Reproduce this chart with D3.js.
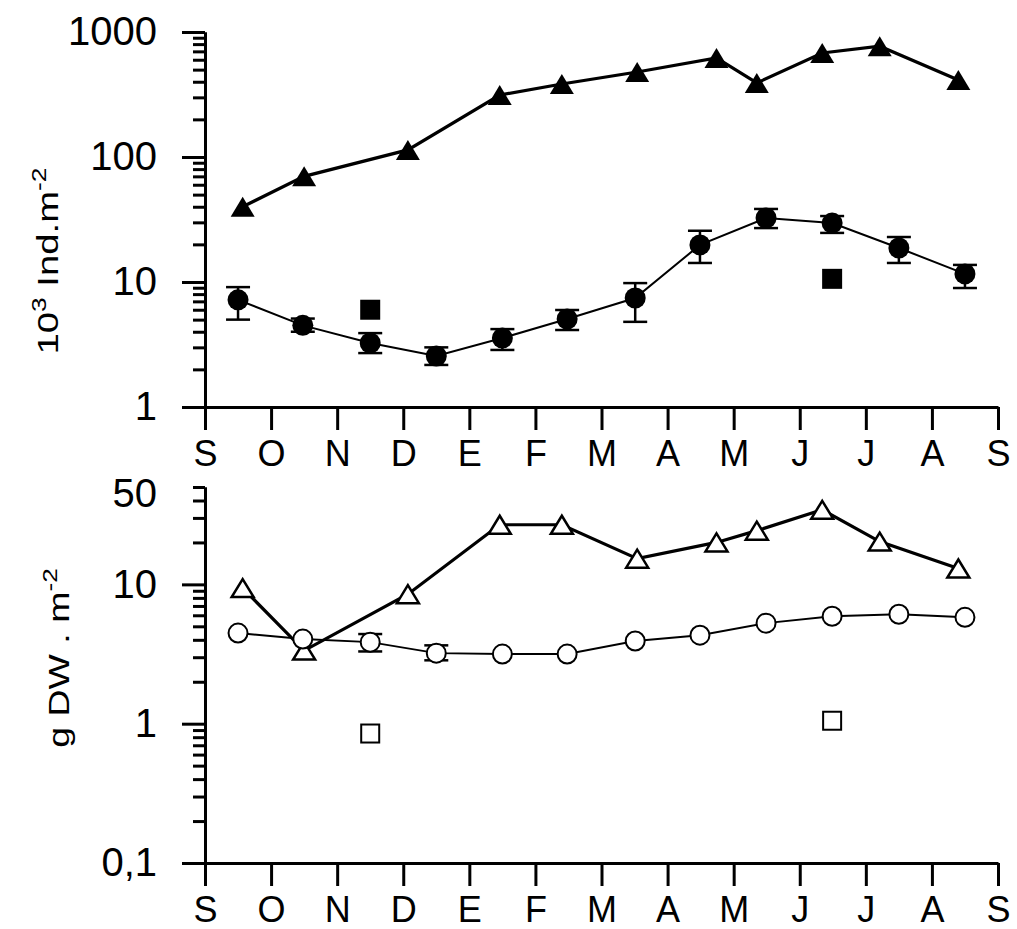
<!DOCTYPE html>
<html>
<head>
<meta charset="utf-8">
<script src="https://cdn.jsdelivr.net/npm/d3@7"></script>
<style>
  body { margin: 0; background: #fff; }
  text { font-family: "Liberation Sans", Arial, sans-serif; fill: #000; }
</style>
</head>
<body>
<div id="chart"></div>
<script>
// month ticks, September to September
const monthLabels = ["S", "O", "N", "D", "E", "F", "M", "A", "M", "J", "J", "A", "S"];

// sampling dates, in months since 1 September
const triangleDates = [0.57, 1.5, 3.07, 4.46, 5.4, 6.54, 7.74, 8.35, 9.34, 10.21, 11.4];
const circleDates = [0.5, 1.48, 2.5, 3.5, 4.5, 5.48, 6.51, 7.49, 8.49, 9.49, 10.5, 11.5];
const squareDates = [2.5, 9.49];

// top panel: density, 10^3 ind. m-2
const densityTriangles = [40, 70, 114, 313, 384, 479, 620, 391, 679, 770, 413];
const densityCircles = [7.2, 4.5, 3.25, 2.56, 3.56, 5.06, 7.45, 19.8, 32.5, 29.6, 18.7, 11.6];
const densityCirclesLow = [5.0, 4.0, 2.7, 2.17, 2.86, 4.13, 4.8, 14.2, 27, 24.7, 14.2, 8.95];
const densityCirclesHigh = [9.1, 5.1, 3.9, 3.0, 4.2, 5.97, 9.8, 25.7, 38.4, 33.7, 22.9, 13.7];
const densitySquares = [6.0, 10.6];

// bottom panel: biomass, g DW m-2
const biomassTriangles = [9.4, 3.35, 8.5, 26.8, 26.8, 15.3, 20, 24.3, 34.3, 20.3, 13];
const biomassCircles = [4.47, 4.05, 3.85, 3.21, 3.16, 3.16, 3.92, 4.32, 5.27, 5.9, 6.1, 5.8];
const biomassCirclesLow = [4.47, 4.05, 3.3, 2.85, 3.16, 3.16, 3.92, 4.32, 5.27, 5.9, 6.1, 5.8];
const biomassCirclesHigh = [4.47, 4.05, 4.4, 3.65, 3.16, 3.16, 3.92, 4.32, 5.27, 5.9, 6.1, 5.8];
const biomassSquares = [0.85, 1.05];

// y axis labels
const densityTickValues = [1, 10, 100, 1000];
const densityTickLabels = ["1", "10", "100", "1000"];
const biomassTickValues = [0.1, 1, 10];
const biomassTickLabels = ["0,1", "1", "10"];
const biomassTopLabel = { value: 50, label: "50" };

const width = 1017;
const height = 929;

const svg = d3
  .select("#chart")
  .append("svg")
  .attr("width", width)
  .attr("height", height)
  .style("background", "#fff");

const x = d3.scaleLinear().domain([0, 12]).range([205, 998]);

const zip = (dates, values) => dates.map((t, i) => ({ t, v: values[i] }));
const triPath = (w, h) => `M0,${-h / 2}L${w / 2},${h / 2}L${-w / 2},${h / 2}Z`;

function drawPanel(cfg) {
  const { y, majorValues, majorLabels, extraLabel, xAxisY } = cfg;
  const g = svg.append("g");

  // minor ticks
  const isMajor = (v) => Math.abs(Math.log10(v) - Math.round(Math.log10(v))) < 1e-6;
  const minor = y.ticks().filter((v) => !isMajor(v));

  g.append("g")
    .attr("transform", "translate(205,0)")
    .call(d3.axisLeft(y).tickValues(minor).tickSize(12).tickSizeOuter(0).tickFormat(""))
    .call((a) => a.selectAll("line, path").attr("stroke", "#000").attr("stroke-width", 3));

  const major = g
    .append("g")
    .attr("transform", "translate(205,0)")
    .call(
      d3
        .axisLeft(y)
        .tickValues(majorValues)
        .tickSize(23)
        .tickSizeOuter(0)
        .tickPadding(25)
        .tickFormat((d, i) => majorLabels[i])
    );
  major.selectAll("line, path").attr("stroke", "#000").attr("stroke-width", 3);
  major.selectAll("text").style("font-size", "40px").attr("fill", "#000");

  if (extraLabel) {
    g.append("text")
      .attr("x", 157)
      .attr("y", y(extraLabel.value) + 20)
      .attr("text-anchor", "end")
      .style("font-size", "40px")
      .text(extraLabel.label);
  }

  // month axis
  const xa = g
    .append("g")
    .attr("transform", `translate(0,${xAxisY})`)
    .call(
      d3
        .axisBottom(x)
        .tickValues(d3.range(13))
        .tickSize(23)
        .tickSizeOuter(0)
        .tickPadding(10)
        .tickFormat((d) => monthLabels[d])
    );
  xa.selectAll("line, path").attr("stroke", "#000").attr("stroke-width", 3);
  xa.selectAll("text").style("font-size", "36px").attr("fill", "#000");

  const line = d3
    .line()
    .x((d) => x(d.t))
    .y((d) => y(d.v));

  // triangle series
  const tri = zip(triangleDates, cfg.triangles);
  g.append("path")
    .attr("d", line(tri))
    .attr("fill", "none")
    .attr("stroke", "#000")
    .attr("stroke-width", 3.2);

  // circle series
  const circ = circleDates.map((t, i) => ({
    t,
    v: cfg.circles[i],
    lo: cfg.circlesLow[i],
    hi: cfg.circlesHigh[i],
  }));
  g.append("path")
    .attr("d", line(circ))
    .attr("fill", "none")
    .attr("stroke", "#000")
    .attr("stroke-width", 2);

  // error bars
  const bars = g
    .selectAll(".err")
    .data(circ.filter((d) => d.hi > d.lo))
    .enter()
    .append("g")
    .attr("class", "err")
    .attr("stroke", "#000")
    .attr("stroke-width", 2.5);
  bars.append("line")
    .attr("x1", (d) => x(d.t))
    .attr("x2", (d) => x(d.t))
    .attr("y1", (d) => y(d.lo))
    .attr("y2", (d) => y(d.hi));
  bars.append("line")
    .attr("x1", (d) => x(d.t) - 12)
    .attr("x2", (d) => x(d.t) + 12)
    .attr("y1", (d) => y(d.lo))
    .attr("y2", (d) => y(d.lo));
  bars.append("line")
    .attr("x1", (d) => x(d.t) - 12)
    .attr("x2", (d) => x(d.t) + 12)
    .attr("y1", (d) => y(d.hi))
    .attr("y2", (d) => y(d.hi));

  // markers
  g.selectAll(".tri")
    .data(tri)
    .enter()
    .append("path")
    .attr("class", "tri")
    .attr("transform", (d) => `translate(${x(d.t)},${y(d.v)})`)
    .attr("d", cfg.filled ? triPath(24, 20) : triPath(22, 18))
    .attr("fill", cfg.filled ? "#000" : "#fff")
    .attr("stroke", "#000")
    .attr("stroke-width", cfg.filled ? 0 : 2.5);

  g.selectAll(".circ")
    .data(circ)
    .enter()
    .append("circle")
    .attr("class", "circ")
    .attr("cx", (d) => x(d.t))
    .attr("cy", (d) => y(d.v))
    .attr("r", cfg.filled ? 10.5 : 9.5)
    .attr("fill", cfg.filled ? "#000" : "#fff")
    .attr("stroke", "#000")
    .attr("stroke-width", cfg.filled ? 0 : 2);

  const sq = zip(squareDates, cfg.squares);
  const s = cfg.filled ? 20 : 18;
  g.selectAll(".sq")
    .data(sq)
    .enter()
    .append("rect")
    .attr("class", "sq")
    .attr("x", (d) => x(d.t) - s / 2)
    .attr("y", (d) => y(d.v) - s / 2)
    .attr("width", s)
    .attr("height", s)
    .attr("fill", cfg.filled ? "#000" : "#fff")
    .attr("stroke", "#000")
    .attr("stroke-width", cfg.filled ? 0 : 2);
}

drawPanel({
  y: d3.scaleLog().domain([1, 1000]).range([407, 32]),
  majorValues: densityTickValues,
  majorLabels: densityTickLabels,
  xAxisY: 407,
  triangles: densityTriangles,
  circles: densityCircles,
  circlesLow: densityCirclesLow,
  circlesHigh: densityCirclesHigh,
  squares: densitySquares,
  filled: true,
});

drawPanel({
  y: d3.scaleLog().domain([0.1, 50]).range([863, 487]),
  majorValues: biomassTickValues,
  majorLabels: biomassTickLabels,
  extraLabel: biomassTopLabel,
  xAxisY: 863,
  triangles: biomassTriangles,
  circles: biomassCircles,
  circlesLow: biomassCirclesLow,
  circlesHigh: biomassCirclesHigh,
  squares: biomassSquares,
  filled: false,
});

// y axis titles (text in the figure is stretched along its direction)
const topTitle = svg
  .append("text")
  .attr("transform", "translate(58,261) rotate(-90) scale(1.32,1)")
  .attr("text-anchor", "middle")
  .style("font-size", "29px");
topTitle.append("tspan").text("10");
topTitle.append("tspan").attr("dy", -12).style("font-size", "20px").text("3");
topTitle.append("tspan").attr("dy", 12).text(" Ind.m");
topTitle.append("tspan").attr("dy", -12).style("font-size", "20px").text("-2");

const bottomTitle = svg
  .append("text")
  .attr("transform", "translate(69,658) rotate(-90) scale(1.25,1)")
  .attr("text-anchor", "middle")
  .style("font-size", "30px");
bottomTitle.append("tspan").text("g DW . m");
bottomTitle.append("tspan").attr("dy", -12).style("font-size", "21px").text("-2");
</script>
</body>
</html>
